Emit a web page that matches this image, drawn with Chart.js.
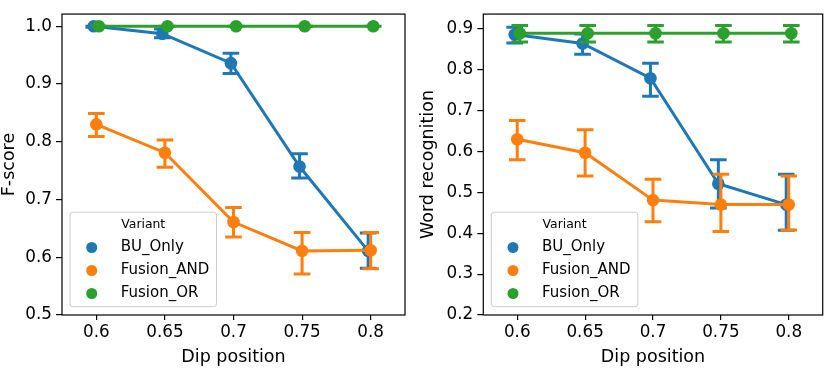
<!DOCTYPE html>
<html><head><meta charset="utf-8">
<script src="https://cdn.jsdelivr.net/npm/chart.js@4/dist/chart.umd.min.js"></script>
<style>
html,body{margin:0;padding:0;background:#fff;}
#wrap{position:relative;width:829px;height:369px;overflow:hidden;background:#fff;}
.c{position:absolute;top:0;height:369px;}
</style></head><body>
<div id="wrap">
<div class="c" style="left:0;width:415px"><canvas id="c1" width="415" height="369"></canvas></div>
<div class="c" style="left:415px;width:414px"><canvas id="c2" width="414" height="369"></canvas></div>
</div>
<script>
const categories = ['0.6', '0.65', '0.7', '0.75', '0.8'];
const seriesNames = ['BU_Only', 'Fusion_AND', 'Fusion_OR'];
const seriesColors = ['#1f77b4', '#ff7f0e', '#2ca02c'];
const legendTitle = 'Variant';
const xTitle = 'Dip position';

// Panel 1: F-score
const fTitle = 'F-score';
const fTicks = [0.5, 0.6, 0.7, 0.8, 0.9, 1.0];
const fBU = [1.000, 0.987, 0.936, 0.757, 0.611];
const fBULow = [0.998, 0.980, 0.918, 0.737, 0.581];
const fBUHigh = [1.000, 0.995, 0.953, 0.779, 0.642];
const fAND = [0.830, 0.781, 0.661, 0.611, 0.612];
const fANDLow = [0.809, 0.756, 0.635, 0.571, 0.580];
const fANDHigh = [0.849, 0.803, 0.686, 0.643, 0.643];
const fOR = [1.000, 1.000, 1.000, 1.000, 1.000];
const fORLow = [1.000, 1.000, 1.000, 1.000, 1.000];
const fORHigh = [1.000, 1.000, 1.000, 1.000, 1.000];

// Panel 2: Word recognition
const wTitle = 'Word recognition';
const wTicks = [0.2, 0.3, 0.4, 0.5, 0.6, 0.7, 0.8, 0.9];
const wBU = [0.886, 0.864, 0.779, 0.521, 0.470];
const wBULow = [0.865, 0.838, 0.735, 0.462, 0.407];
const wBUHigh = [0.904, 0.887, 0.816, 0.580, 0.544];
const wAND = [0.630, 0.597, 0.481, 0.470, 0.470];
const wANDLow = [0.580, 0.540, 0.428, 0.404, 0.408];
const wANDHigh = [0.676, 0.653, 0.532, 0.544, 0.540];
const wOR = [0.889, 0.889, 0.889, 0.889, 0.889];
const wORLow = [0.868, 0.868, 0.868, 0.868, 0.868];
const wORHigh = [0.908, 0.908, 0.908, 0.908, 0.908];

Chart.defaults.font.family = "'DejaVu Sans', sans-serif";
Chart.defaults.color = '#000';

const dodge = [-0.0375, 0, 0.0375];

const errorBarPlugin = {
  id: 'errorBars',
  beforeDatasetDraw(chart, args) {
    const ds = chart.data.datasets[args.index];
    if (!ds.errLow) return;
    const ctx = chart.ctx, ys = chart.scales.y;
    ctx.save();
    ctx.strokeStyle = ds.borderColor;
    ctx.lineWidth = 3;
    ctx.lineCap = 'butt';
    args.meta.data.forEach((el, i) => {
      const x = el.x;
      const yl = ys.getPixelForValue(ds.errLow[i]);
      const yh = ys.getPixelForValue(ds.errHigh[i]);
      const cw = 8.3;
      ctx.beginPath();
      ctx.moveTo(x, yl); ctx.lineTo(x, yh);
      ctx.moveTo(x - cw, yl); ctx.lineTo(x + cw, yl);
      ctx.moveTo(x - cw, yh); ctx.lineTo(x + cw, yh);
      ctx.stroke();
    });
    ctx.restore();
  }
};

const framePlugin = {
  id: 'frame',
  afterDatasetsDraw(chart) {
    const {ctx, chartArea: a} = chart;
    ctx.save();
    ctx.strokeStyle = '#000';
    ctx.lineWidth = 1.2;
    ctx.strokeRect(a.left, a.top, a.right - a.left, a.bottom - a.top);
    ctx.restore();
  }
};

const legendPlugin = {
  id: 'boxLegend',
  afterDraw(chart) {
    const {ctx, chartArea: a} = chart;
    const w = 146.5, h = 94.5;
    const x0 = a.left + 8, y0 = a.bottom - 8.3 - h;
    ctx.save();
    ctx.beginPath();
    if (ctx.roundRect) ctx.roundRect(x0, y0, w, h, 3); else ctx.rect(x0, y0, w, h);
    ctx.fillStyle = 'rgba(255,255,255,0.8)';
    ctx.fill();
    ctx.strokeStyle = '#cccccc';
    ctx.lineWidth = 1;
    ctx.stroke();
    ctx.fillStyle = '#000';
    ctx.textBaseline = 'middle';
    ctx.textAlign = 'center';
    ctx.font = "12.4px 'DejaVu Sans'";
    ctx.fillText(legendTitle, x0 + w / 2, y0 + 12.3);
    ctx.textAlign = 'left';
    ctx.font = "15px 'DejaVu Sans'";
    chart.data.datasets.forEach((ds, i) => {
      const yy = y0 + 35.3 + i * 23;
      ctx.beginPath();
      ctx.arc(x0 + 21.7, yy, 5.5, 0, Math.PI * 2);
      ctx.fillStyle = ds.borderColor;
      ctx.fill();
      ctx.fillStyle = '#000';
      ctx.fillText(ds.label, x0 + 50.7, yy);
    });
    ctx.restore();
  }
};

function makeDatasets(vals, lows, highs) {
  return seriesNames.map((name, s) => ({
    label: name,
    data: vals[s].map((v, i) => ({x: i + dodge[s], y: v})),
    errLow: lows[s],
    errHigh: highs[s],
    borderColor: seriesColors[s],
    backgroundColor: seriesColors[s],
    pointBackgroundColor: seriesColors[s],
    pointBorderWidth: 0,
    pointRadius: 6.3,
    borderWidth: 3,
    tension: 0,
    order: 2 - s
  }));
}

function makeChart(id, vals, lows, highs, yTicks, yMin, yMax, yTitleText, yWidth, padRight, yTitlePad) {
  return new Chart(document.getElementById(id), {
    type: 'line',
    data: {datasets: makeDatasets(vals, lows, highs)},
    options: {
      responsive: false,
      animation: false,
      devicePixelRatio: 1,
      layout: {padding: {left: 0, top: 3, right: padRight, bottom: 0}},
      plugins: {legend: {display: false}, tooltip: {enabled: false}},
      scales: {
        x: {
          type: 'linear',
          min: -0.5, max: 4.5,
          afterBuildTicks: (sc) => { sc.ticks = categories.map((c, i) => ({value: i})); },
          afterFit: (sc) => { sc.height = 54; },
          ticks: {
            callback: (v) => categories[v],
            font: {size: 16.8},
            padding: 3,
            maxRotation: 0,
            autoSkip: false
          },
          grid: {drawOnChartArea: false, drawTicks: true, tickLength: 5, color: '#000', lineWidth: 1.2},
          border: {display: false},
          title: {display: true, text: xTitle, font: {size: 17.5}, padding: {top: 0, bottom: 1.5}}
        },
        y: {
          type: 'linear',
          min: yMin, max: yMax,
          afterBuildTicks: (sc) => { sc.ticks = yTicks.map(v => ({value: v})); },
          afterFit: (sc) => { sc.width = yWidth; },
          ticks: {
            callback: (v) => v.toFixed(1),
            font: {size: 16.8},
            padding: 4
          },
          grid: {drawOnChartArea: false, drawTicks: true, tickLength: 6, color: '#000', lineWidth: 1.2},
          border: {display: false},
          title: {display: true, text: yTitleText, font: {size: 17.5}, padding: {top: yTitlePad, bottom: 0}}
        }
      }
    },
    plugins: [errorBarPlugin, framePlugin, legendPlugin]
  });
}

makeChart('c1', [fBU, fAND, fOR], [fBULow, fANDLow, fORLow], [fBUHigh, fANDHigh, fORHigh],
  fTicks, 0.5, 1.021, fTitle, 62, 10, -1);
makeChart('c2', [wBU, wAND, wOR], [wBULow, wANDLow, wORLow], [wBUHigh, wANDHigh, wORHigh],
  wTicks, 0.2, 0.936, wTitle, 68.3, 3.3, 2.5);
</script>
</body></html>
